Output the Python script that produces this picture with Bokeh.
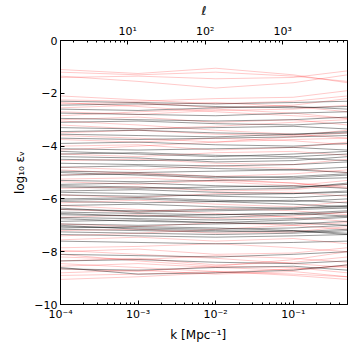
from bokeh.plotting import figure
from bokeh.models import LogAxis, Range1d, LogScale, FixedTicker, ColumnDataSource
from bokeh.embed import file_html
from bokeh.resources import INLINE

# k nodes (Mpc^-1) at which each curve is sampled
k_nodes = [1e-4, 1e-3, 1e-2, 1e-1, 0.5]

# log10 eps_V for the "red" family
red_curves = [
    [-1.10, -1.25, -1.05, -1.30, -1.60],
    [-1.40, -1.35, -1.45, -1.40, -1.15],
    [-1.35, -1.55, -1.80, -1.60, -1.30],
    [-1.20, -1.30, -1.20, -1.35, -1.55],
    [-2.25, -2.30, -2.20, -2.15, -1.90],
    [-2.40, -2.35, -2.55, -2.45, -2.20],
    [-2.55, -2.45, -2.35, -2.50, -2.70],
    [-2.70, -2.80, -2.65, -2.60, -2.45],
    [-3.00, -2.90, -3.10, -3.00, -3.20],
    [-3.20, -3.35, -3.25, -3.10, -3.00],
    [-3.50, -3.40, -3.55, -3.60, -3.40],
    [-3.75, -3.85, -3.70, -3.80, -3.95],
    [-4.00, -3.95, -4.15, -4.05, -3.85],
    [-4.30, -4.40, -4.25, -4.20, -4.35],
    [-4.55, -4.50, -4.65, -4.70, -4.50],
    [-4.80, -4.90, -4.75, -4.85, -5.00],
    [-5.10, -5.00, -5.15, -5.05, -4.90],
    [-5.35, -5.45, -5.30, -5.40, -5.55],
    [-5.60, -5.55, -5.70, -5.65, -5.45],
    [-5.85, -5.95, -5.80, -5.75, -5.90],
    [-6.15, -6.05, -6.20, -6.30, -6.10],
    [-6.40, -6.50, -6.35, -6.45, -6.60],
    [-6.70, -6.60, -6.75, -6.65, -6.50],
    [-6.95, -7.05, -6.90, -7.00, -7.15],
    [-7.20, -7.15, -7.30, -7.25, -7.05],
    [-7.55, -7.45, -7.60, -7.50, -7.70],
    [-7.85, -7.80, -7.70, -7.85, -8.00],
    [-8.00, -7.90, -8.10, -8.05, -7.85],
    [-8.20, -8.30, -8.15, -8.25, -8.40],
    [-8.35, -8.25, -8.50, -8.40, -8.20],
    [-8.55, -8.45, -8.60, -8.70, -8.50],
    [-8.65, -8.75, -8.55, -8.60, -8.80],
    [-8.80, -8.70, -8.85, -8.75, -8.95],
    [-8.90, -8.85, -8.75, -8.90, -9.05],
    [-8.10, -8.35, -8.55, -8.30, -8.00],
    [-7.95, -8.10, -8.25, -8.45, -8.60],
    [-2.10, -2.25, -2.40, -2.30, -2.10],
    [-2.85, -2.70, -2.60, -2.75, -2.95],
    [-3.60, -3.70, -3.85, -3.65, -3.50],
    [-5.25, -5.20, -5.35, -5.50, -5.30],
    [-2.35, -2.50, -2.70, -2.85, -2.95],
    [-3.05, -3.20, -3.40, -3.55, -3.70],
    [-4.15, -4.00, -3.85, -3.75, -3.70],
    [-4.90, -5.05, -5.25, -5.40, -5.60],
    [-6.25, -6.40, -6.55, -6.70, -6.85],
    [-7.40, -7.30, -7.15, -7.00, -6.90],
    [-8.45, -8.60, -8.75, -8.85, -8.95],
    [-9.05, -8.95, -8.80, -8.65, -8.55],
]

# log10 eps_V for the "black" family
black_curves = [
    [-2.30, -2.35, -2.40, -2.35, -2.30],
    [-2.45, -2.40, -2.50, -2.55, -2.50],
    [-2.60, -2.65, -2.55, -2.50, -2.60],
    [-2.95, -3.00, -3.05, -3.00, -2.90],
    [-3.10, -3.05, -3.15, -3.20, -3.10],
    [-3.30, -3.35, -3.30, -3.25, -3.35],
    [-3.45, -3.40, -3.50, -3.55, -3.45],
    [-3.70, -3.75, -3.70, -3.65, -3.60],
    [-3.90, -3.85, -3.95, -4.00, -3.90],
    [-4.10, -4.15, -4.10, -4.05, -4.15],
    [-4.30, -4.25, -4.35, -4.40, -4.30],
    [-4.50, -4.55, -4.50, -4.45, -4.55],
    [-4.65, -4.70, -4.75, -4.70, -4.60],
    [-4.80, -4.75, -4.85, -4.90, -4.80],
    [-4.95, -5.00, -4.95, -4.90, -5.00],
    [-5.10, -5.05, -5.15, -5.20, -5.10],
    [-5.30, -5.35, -5.30, -5.25, -5.20],
    [-5.45, -5.40, -5.50, -5.55, -5.45],
    [-5.55, -5.60, -5.55, -5.50, -5.60],
    [-5.70, -5.65, -5.75, -5.80, -5.70],
    [-5.85, -5.90, -5.85, -5.80, -5.75],
    [-6.00, -5.95, -6.05, -6.10, -6.00],
    [-6.10, -6.15, -6.10, -6.05, -6.15],
    [-6.25, -6.20, -6.30, -6.35, -6.25],
    [-6.40, -6.45, -6.40, -6.35, -6.30],
    [-6.50, -6.55, -6.60, -6.55, -6.45],
    [-6.60, -6.65, -6.60, -6.55, -6.65],
    [-6.70, -6.75, -6.80, -6.75, -6.65],
    [-6.85, -6.80, -6.90, -6.95, -6.85],
    [-6.95, -7.00, -6.95, -6.90, -7.00],
    [-7.05, -7.10, -7.15, -7.10, -7.00],
    [-7.15, -7.20, -7.25, -7.20, -7.30],
    [-7.25, -7.30, -7.35, -7.30, -7.20],
    [-7.35, -7.40, -7.45, -7.40, -7.35],
    [-7.60, -7.65, -7.70, -7.65, -7.60],
    [-8.10, -8.15, -8.20, -8.10, -8.00],
    [-8.35, -8.30, -8.40, -8.45, -8.35],
    [-8.65, -8.70, -8.60, -8.55, -8.70],
    [-8.60, -8.85, -8.80, -8.70, -8.50],
    [-3.55, -3.60, -3.65, -3.55, -3.50],
    [-4.20, -4.30, -4.40, -4.30, -4.20],
    [-5.00, -5.10, -5.20, -5.15, -5.05],
    [-5.75, -5.80, -5.90, -5.95, -5.85],
    [-6.35, -6.50, -6.45, -6.40, -6.35],
    [-6.75, -6.85, -6.90, -6.80, -6.70],
    [-7.00, -7.15, -7.20, -7.25, -7.15],
    [-5.50, -5.55, -5.65, -5.60, -5.40],
    [-6.05, -6.00, -6.10, -6.20, -6.30],
    [-6.55, -6.65, -6.70, -6.60, -6.50],
    [-7.10, -7.05, -7.10, -7.20, -7.35],
    [-4.40, -4.45, -4.60, -4.55, -4.40],
    [-2.75, -2.80, -2.85, -2.75, -2.70],
]

k_min, k_max = 1e-4, 0.5
ell_per_k = 13650.0  # ell = k * chi
y_ticks = [0, -2, -4, -6, -8, -10]
y_tick_labels = ["0", "\u22122", "\u22124", "\u22126", "\u22128", "\u221210"]
k_ticks = [1e-4, 1e-3, 1e-2, 1e-1]
k_tick_labels = ["10\u207b\u2074", "10\u207b\u00b3", "10\u207b\u00b2", "10\u207b\u00b9"]
ell_ticks = [10, 100, 1000]
ell_tick_labels = ["10\u00b9", "10\u00b2", "10\u00b3"]

FONT = "DejaVu Sans"

p = figure(frame_width=287, frame_height=264, x_axis_type="log",
           x_range=(k_min, k_max), y_range=(-10, 0),
           output_backend="svg", toolbar_location=None,
           min_border_left=60, min_border_right=4,
           min_border_top=39, min_border_bottom=39)
p.grid.visible = False
p.outline_line_color = "black"
p.outline_line_width = 1
p.background_fill_color = "white"

red_src = ColumnDataSource(dict(xs=[k_nodes] * len(red_curves), ys=red_curves))
black_src = ColumnDataSource(dict(xs=[k_nodes] * len(black_curves), ys=black_curves))
p.multi_line("xs", "ys", source=red_src, line_color="#ff0000", line_alpha=0.27, line_width=0.8)
p.multi_line("xs", "ys", source=black_src, line_color="black", line_alpha=0.5, line_width=0.8)

minor_k = [m * 10.0 ** e for e in range(-4, 0) for m in range(2, 10)]
minor_k = [v for v in minor_k if v <= k_max]

xa = p.xaxis[0]
xa.ticker = FixedTicker(ticks=k_ticks, minor_ticks=minor_k)
xa.major_label_overrides = {t: l for t, l in zip(k_ticks, k_tick_labels)}
xa.axis_label = "k    [Mpc\u207b\u00b9]"

ya = p.yaxis[0]
ya.ticker = FixedTicker(ticks=y_ticks)
ya.major_label_overrides = {t: l for t, l in zip(y_ticks, y_tick_labels)}
ya.axis_label = "log\u2081\u2080 \u03b5\u1d65"

p.extra_x_ranges = {"ell": Range1d(k_min * ell_per_k, k_max * ell_per_k)}
p.extra_x_scales = {"ell": LogScale()}
minor_ell = [m * 10.0 ** e for e in range(0, 4) for m in range(2, 10)]
minor_ell = [v for v in minor_ell if k_min * ell_per_k <= v <= k_max * ell_per_k]
top = LogAxis(x_range_name="ell",
              ticker=FixedTicker(ticks=ell_ticks, minor_ticks=minor_ell),
              axis_label="\u2113")
top.major_label_overrides = {t: l for t, l in zip(ell_ticks, ell_tick_labels)}
p.add_layout(top, "above")

for ax in [xa, ya, top]:
    ax.major_tick_in = 4
    ax.major_tick_out = 0
    ax.minor_tick_in = 2
    ax.minor_tick_out = 0
    ax.axis_line_color = "black"
    ax.major_tick_line_color = "black"
    ax.minor_tick_line_color = "black"
    ax.major_label_text_font = FONT
    ax.major_label_text_font_size = "11px"
    ax.major_label_text_color = "black"
    ax.axis_label_text_font = FONT
    ax.axis_label_text_font_size = "12px"
    ax.axis_label_text_font_style = "normal"
    ax.axis_label_text_color = "black"
    ax.major_label_standoff = 3
    ax.axis_label_standoff = 4
ya.minor_tick_line_color = None
top.axis_label_text_font_style = "italic"

open("out.html", "w").write(file_html(p, INLINE))
